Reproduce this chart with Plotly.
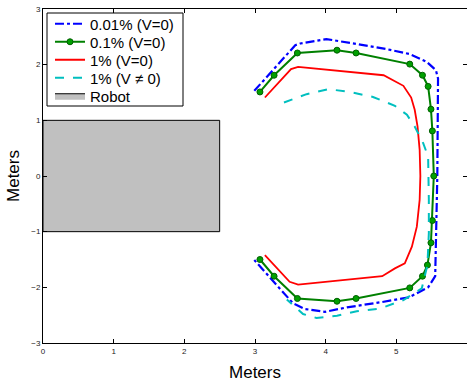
import plotly.graph_objects as go

# 0.01% (V=0) - blue dash-dot
blue_x = [2.99, 3.57, 3.64, 4.01, 4.44, 4.86, 5.19, 5.43, 5.56, 5.59, 5.58, 5.56, 5.55, 5.45, 5.18, 4.77, 4.30, 3.99, 3.71, 3.54, 2.99]
blue_y = [1.53, 2.35, 2.38, 2.46, 2.37, 2.28, 2.19, 2.05, 1.90, 1.75, 0.0, -1.57, -1.80, -2.00, -2.18, -2.27, -2.36, -2.44, -2.39, -2.29, -1.51]

# 0.1% (V=0) - green with markers
green_x = [3.07, 3.27, 3.60, 4.16, 4.43, 5.19, 5.37, 5.45, 5.49, 5.51, 5.53, 5.51, 5.49, 5.44, 5.37, 5.19, 4.43, 4.16, 3.60, 3.27, 3.07]
green_y = [1.51, 1.81, 2.21, 2.26, 2.21, 2.01, 1.81, 1.61, 1.20, 0.81, 0.0, -0.80, -1.20, -1.60, -1.80, -2.01, -2.20, -2.25, -2.20, -1.80, -1.50]

# 1% (V=0) - red
red_x = [3.14, 3.51, 3.61, 4.82, 5.10, 5.21, 5.26, 5.30, 5.33, 5.34, 5.33, 5.29, 5.22, 5.12, 4.98, 4.80, 3.61, 3.49, 3.14]
red_y = [1.41, 1.92, 1.96, 1.81, 1.62, 1.41, 1.19, 0.89, 0.47, 0.0, -0.43, -0.91, -1.27, -1.57, -1.66, -1.80, -1.95, -1.90, -1.42]

# 1% (V != 0) - cyan dashed
cyan_x = [3.41, 3.73, 4.04, 4.34, 4.67, 4.98, 5.15, 5.26, 5.38, 5.45, 5.46, 5.46, 5.44, 5.36, 5.10, 4.77, 4.44, 4.16, 3.87, 3.68, 3.45]
cyan_y = [1.32, 1.47, 1.56, 1.51, 1.42, 1.26, 1.10, 0.89, 0.59, 0.35, -0.43, -1.03, -1.60, -2.02, -2.23, -2.38, -2.43, -2.51, -2.55, -2.48, -2.22]

# Robot rectangle
robot_x = [0, 2.5, 2.5, 0, 0]
robot_y = [-1, -1, 1, 1, -1]

x_ticks = [0, 1, 2, 3, 4, 5, 6]
y_ticks = [-3, -2, -1, 0, 1, 2, 3]

series_names = ["0.01% (V=0)", "0.1% (V=0)", "1% (V=0)", "1% (V \u2260 0)", "Robot"]

FONT = "Liberation Sans, Arial, Helvetica"

fig = go.Figure()
fig.add_trace(go.Scatter(x=blue_x, y=blue_y, mode="lines", name=series_names[0], legend="legend",
                         line=dict(color="#0000ff", width=2.2, dash="dashdot")))
fig.add_trace(go.Scatter(x=green_x, y=green_y, mode="lines+markers", name=series_names[1], legend="legend2",
                         line=dict(color="#008000", width=2),
                         marker=dict(size=6, color="#00a000", line=dict(color="#006000", width=1))))
fig.add_trace(go.Scatter(x=red_x, y=red_y, mode="lines", name=series_names[2], legend="legend3",
                         line=dict(color="#ff0000", width=1.8)))
fig.add_trace(go.Scatter(x=cyan_x, y=cyan_y, mode="lines", name=series_names[3], legend="legend4",
                         line=dict(color="#00bfbf", width=2, dash="dash")))
fig.add_trace(go.Scatter(x=robot_x, y=robot_y, mode="lines", name=series_names[4], fill="toself", legend="legend5",
                         fillcolor="#c0c0c0", line=dict(color="#000000", width=1)))

axis_common = dict(showgrid=False, zeroline=False, showline=True, linecolor="black", linewidth=1,
                   mirror="allticks", ticks="inside", ticklen=4, tickcolor="black", automargin=False,
                   tickfont=dict(size=8, color="#222222", family=FONT))

fig.update_xaxes(range=[0, 6], tickvals=x_ticks, ticktext=[str(v) for v in x_ticks],
                 title=dict(text="Meters", font=dict(size=17, color="black", family=FONT), standoff=11),
                 **axis_common)
fig.update_yaxes(range=[-3, 3], tickvals=y_ticks, ticktext=[str(v).replace("-", "\u2212") for v in y_ticks],
                 title=dict(text="Meters", font=dict(size=17, color="black", family=FONT), standoff=7),
                 **axis_common)

# legend layout (pixel-based placement inside plot area)
L, T, W, H = 43, 9, 424, 334
def px_x(p):
    return (p - L) / W
def px_y(p):
    return 1 - (p - T) / H

leg_common = dict(xanchor="left", yanchor="middle", bgcolor="rgba(0,0,0,0)", borderwidth=0,
                  font=dict(size=15, color="black", family=FONT), itemwidth=30)
row_centers = [24, 42, 60, 78, 96]
legends = {}
for i, yc in enumerate(row_centers):
    key = "legend" if i == 0 else f"legend{i+1}"
    legends[key] = dict(x=px_x(50), y=px_y(yc), **leg_common)

fig.update_layout(
    width=467, height=385,
    margin=dict(l=L, r=467 - L - W, t=T, b=385 - T - H),
    plot_bgcolor="white", paper_bgcolor="white",
    showlegend=True,
    shapes=[dict(type="rect", xref="paper", yref="paper",
                 x0=px_x(47), x1=px_x(183), y0=px_y(106), y1=px_y(13),
                 fillcolor="white", line=dict(color="black", width=1), layer="above")],
    **legends,
)

fig.write_html("out.html", config={"displayModeBar": False},
               post_script="document.body.style.margin='0px';document.body.style.overflow='hidden';")
